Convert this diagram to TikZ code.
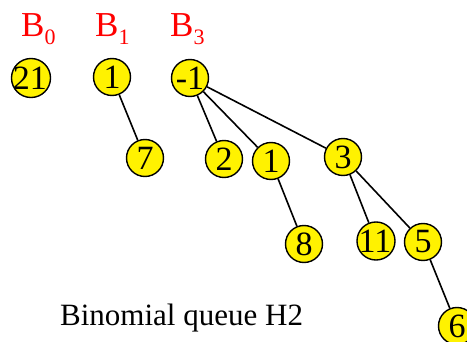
\documentclass[tikz,border=0pt]{standalone}
\usepackage{fontspec}
\setmainfont{Liberation Serif}
\begin{document}
\begin{tikzpicture}[x=1pt,y=1pt,
  key/.style={circle,draw=black,line width=1.4pt,fill=yellow,minimum size=37pt,inner sep=0pt,
    font=\fontsize{34}{34}\selectfont},
  link/.style={draw=black,line width=1.6pt},
  treename/.style={anchor=base west,inner sep=0pt,text=red,font=\fontsize{35}{35}\selectfont}]
\useasboundingbox (0,0) rectangle (467,341);
% tree labels
\node[treename] (lb0) at (21,305) {B\raisebox{-9pt}{\fontsize{22}{22}\selectfont 0}};
\node[treename] (lb1) at (95,305) {B\raisebox{-9pt}{\fontsize{22}{22}\selectfont 1}};
\node[treename] (lb3) at (170,305) {B\raisebox{-9pt}{\fontsize{22}{22}\selectfont 3}};
% B0
\node[key] (n21) at (31,263) {\hspace{-2pt}21\hspace{-2pt}};
% B1
\node[key] (n1a) at (112,264) {1};
\node[key] (n7) at (145,183) {7};
% B3
\node[key] (nm1) at (190,263) {-1};
\node[key] (n2) at (224,182) {2};
\node[key] (n1b) at (271,180) {1};
\node[key] (n3) at (343,184) {3};
\node[key] (n8) at (304,97) {8};
\node[key] (n11) at (376,100) {\hspace{-2pt}11\hspace{-2pt}};
\node[key] (n5) at (423,99) {5};
\node[key] (n6) at (457,15) {6};
% edges
\path[link] (n1a) -- (n7);
\path[link] (nm1) -- (n2);
\path[link] (nm1) -- (n1b);
\path[link] (nm1) -- (n3);
\path[link] (n1b) -- (n8);
\path[link] (n3) -- (n11);
\path[link] (n3) -- (n5);
\path[link] (n5) -- (n6);
% caption
\node[anchor=base west,inner sep=0pt,font=\fontsize{31}{31}\selectfont] (cap) at (60,16) {Binomial queue H2};
\end{tikzpicture}
\end{document}
